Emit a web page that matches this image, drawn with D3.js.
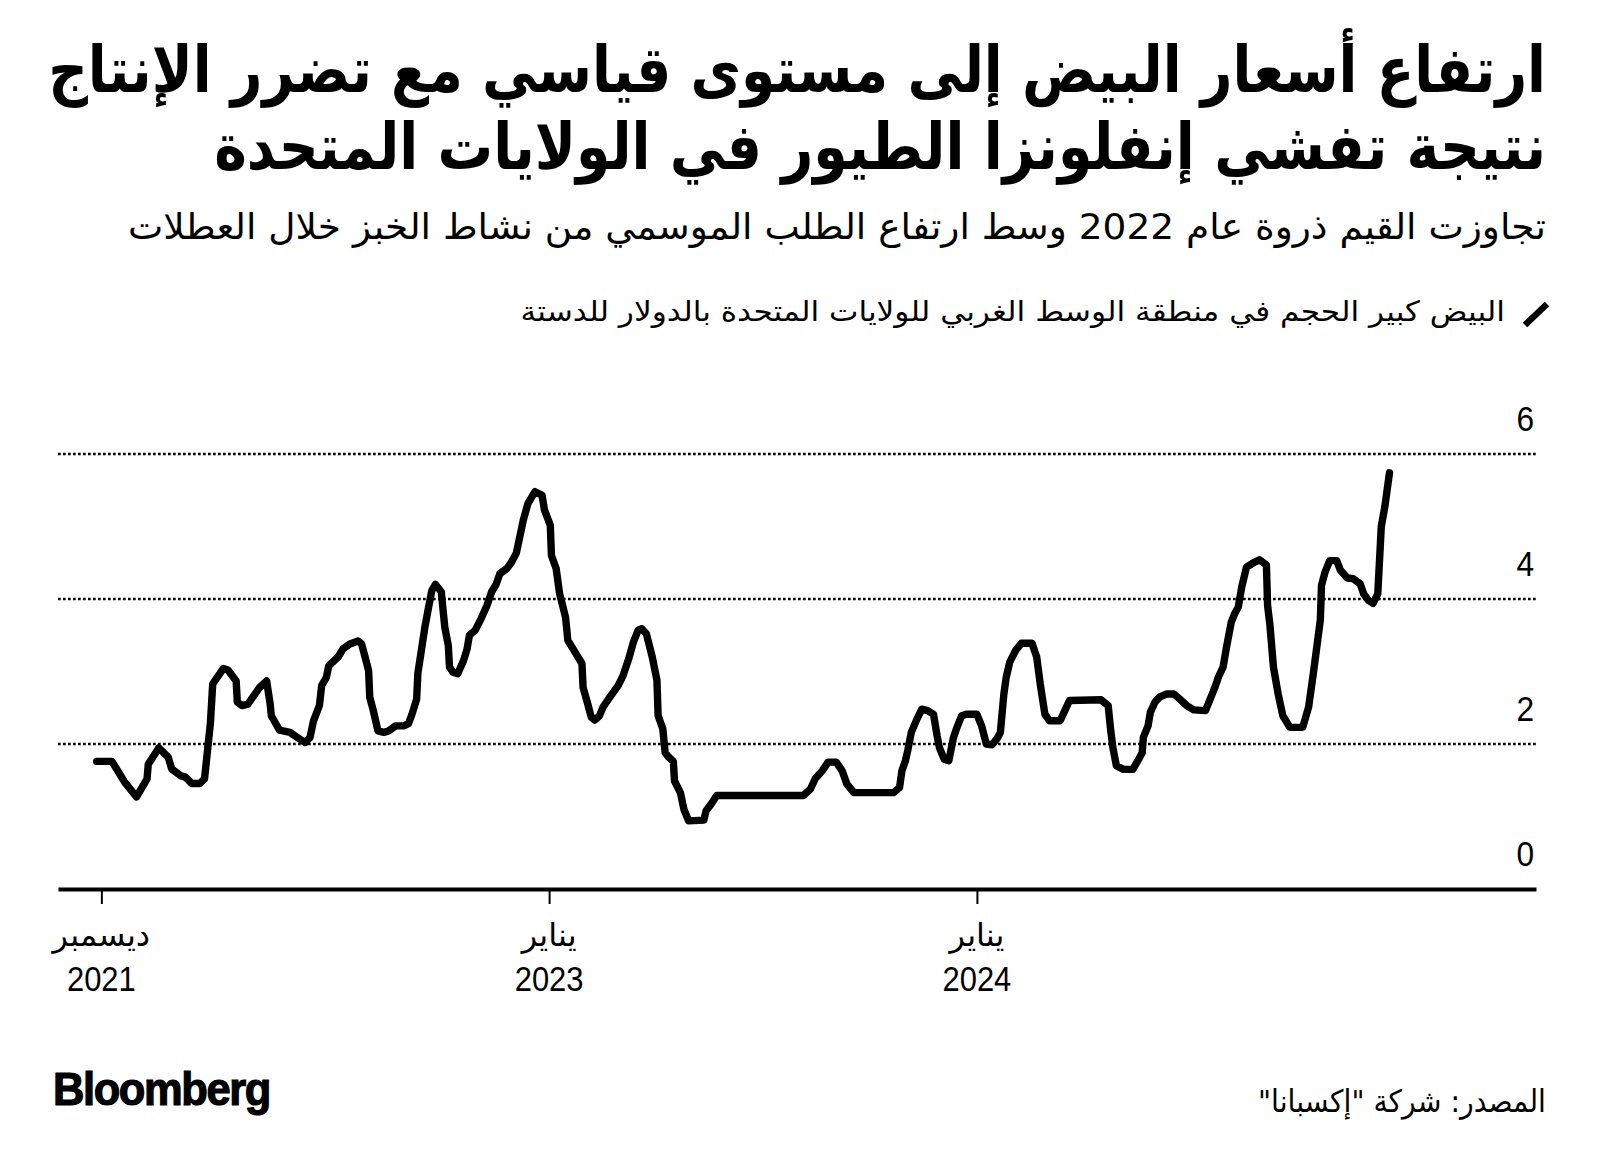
<!DOCTYPE html>
<html lang="ar">
<head>
<meta charset="utf-8">
<script src="https://cdn.jsdelivr.net/npm/d3@7"></script>
<style>
  html, body { margin: 0; padding: 0; background: #fff; }
  svg { display: block; }
  .ar { font-family: "DejaVu Sans", sans-serif; direction: rtl; }
  .num { font-family: "Liberation Sans", Arial, sans-serif; }
</style>
</head>
<body>
<svg id="chart" width="1600" height="1171"></svg>
<script>
// ---------- data ----------
const titleLines = [
  "ارتفاع أسعار البيض إلى مستوى قياسي مع تضرر الإنتاج",
  "نتيجة تفشي إنفلونزا الطيور في الولايات المتحدة"
];
const subtitle = "تجاوزت القيم ذروة عام 2022 وسط ارتفاع الطلب الموسمي من نشاط الخبز خلال العطلات";
const legendLabel = "البيض كبير الحجم في منطقة الوسط الغربي للولايات المتحدة بالدولار للدستة";
const sourceText = "المصدر: شركة \"إكسبانا\"";

const xTickDates = ["2021-12-15", "2023-01-01", "2024-01-01"];
const xTickMonths = ["ديسمبر", "يناير", "يناير"];
const xTickYears = ["2021", "2023", "2024"];
const yTicks = [0, 2, 4, 6];
const yGrid = [2, 4, 6];

const dates = [
 "2021-12-11","2021-12-24","2021-12-28","2022-01-04","2022-01-14","2022-01-23","2022-01-24","2022-02-02",
 "2022-02-10","2022-02-13","2022-02-21","2022-02-25","2022-03-02","2022-03-09","2022-03-13","2022-03-18",
 "2022-03-20","2022-03-29","2022-04-02","2022-04-09","2022-04-10","2022-04-14","2022-04-19","2022-04-29",
 "2022-05-05","2022-05-08","2022-05-09","2022-05-16","2022-05-25","2022-06-02","2022-06-07","2022-06-11",
 "2022-06-14","2022-06-19","2022-06-21","2022-06-25","2022-06-27","2022-07-05","2022-07-09","2022-07-15",
 "2022-07-22","2022-07-25","2022-07-28","2022-07-31","2022-08-01","2022-08-04","2022-08-08","2022-08-13",
 "2022-08-17","2022-08-23","2022-08-30","2022-09-03","2022-09-06","2022-09-10","2022-09-11","2022-09-14",
 "2022-09-17","2022-09-20","2022-09-23","2022-09-26","2022-10-01","2022-10-04","2022-10-07","2022-10-08",
 "2022-10-11","2022-10-15","2022-10-20","2022-10-23","2022-10-25","2022-10-30","2022-11-04","2022-11-09",
 "2022-11-13","2022-11-17","2022-11-20","2022-11-26","2022-11-30","2022-12-04","2022-12-07","2022-12-10",
 "2022-12-14","2022-12-20","2022-12-26","2022-12-28","2023-01-02","2023-01-03","2023-01-07","2023-01-10",
 "2023-01-15","2023-01-17","2023-01-23","2023-01-29","2023-01-30","2023-02-03","2023-02-06","2023-02-09",
 "2023-02-13","2023-02-16","2023-02-22","2023-03-01","2023-03-05","2023-03-10","2023-03-14","2023-03-18",
 "2023-03-21","2023-03-25","2023-03-30","2023-04-03","2023-04-04","2023-04-08","2023-04-10","2023-04-13",
 "2023-04-17","2023-04-18","2023-04-23","2023-04-26","2023-04-30","2023-05-13","2023-05-15","2023-05-20",
 "2023-05-24","2023-08-06","2023-08-12","2023-08-16","2023-08-22","2023-08-27","2023-09-03","2023-09-08",
 "2023-09-12","2023-09-18","2023-10-22","2023-10-27","2023-10-29","2023-11-01","2023-11-03","2023-11-06",
 "2023-11-11","2023-11-15","2023-11-20","2023-11-25","2023-11-28","2023-11-30","2023-12-04","2023-12-08",
 "2023-12-12","2023-12-15","2023-12-19","2023-12-23","2024-01-01","2024-01-05","2024-01-09","2024-01-14",
 "2024-01-18","2024-01-21","2024-01-24","2024-01-26","2024-01-29","2024-02-03","2024-02-08","2024-02-17",
 "2024-02-21","2024-02-24","2024-02-28","2024-03-03","2024-03-12","2024-03-16","2024-03-20","2024-04-16",
 "2024-04-22","2024-04-24","2024-04-26","2024-04-29","2024-05-05","2024-05-13","2024-05-18","2024-05-21",
 "2024-05-22","2024-05-26","2024-05-28","2024-06-01","2024-06-05","2024-06-11","2024-06-17","2024-06-22",
 "2024-06-28","2024-07-04","2024-07-14","2024-07-18","2024-07-22","2024-07-25","2024-07-29","2024-08-01",
 "2024-08-05","2024-08-08","2024-08-11","2024-08-14","2024-08-18","2024-08-24","2024-08-29","2024-09-04",
 "2024-09-05","2024-09-07","2024-09-10","2024-09-14","2024-09-18","2024-09-24","2024-10-05","2024-10-10",
 "2024-10-14","2024-10-17","2024-10-20","2024-10-21","2024-10-24","2024-10-28","2024-11-03","2024-11-06",
 "2024-11-12","2024-11-17","2024-11-23","2024-11-26","2024-11-30","2024-12-04","2024-12-08","2024-12-11",
 "2024-12-14","2024-12-18"
];
const prices = [
 1.76,1.76,1.655,1.47,1.27,1.52,1.72,1.945,
 1.82,1.655,1.56,1.54,1.456,1.456,1.52,2.28,
 2.83,3.04,3.02,2.87,2.58,2.53,2.55,2.78,
 2.87,2.55,2.39,2.19,2.16,2.07,2.02,2.09,
 2.32,2.53,2.81,2.92,3.08,3.20,3.31,3.38,
 3.42,3.38,3.20,3.01,2.645,2.46,2.18,2.16,
 2.18,2.25,2.25,2.28,2.41,2.62,2.97,3.29,
 3.61,3.87,4.12,4.20,4.10,3.61,3.36,3.06,
 2.99,2.97,3.15,3.31,3.50,3.57,3.73,3.91,
 4.10,4.21,4.35,4.42,4.51,4.63,4.86,5.09,
 5.32,5.48,5.43,5.23,5.02,4.60,4.42,4.07,
 3.75,3.43,3.27,3.11,2.78,2.55,2.37,2.33,
 2.39,2.51,2.65,2.81,2.94,3.18,3.41,3.57,
 3.59,3.52,3.20,2.88,2.39,2.21,1.88,1.82,
 1.76,1.49,1.33,1.10,0.94,0.95,1.08,1.19,
 1.29,1.29,1.38,1.52,1.63,1.75,1.75,1.63,
 1.45,1.33,1.33,1.40,1.63,1.77,1.91,2.16,
 2.35,2.48,2.46,2.41,2.115,1.95,1.79,1.77,
 2.09,2.23,2.39,2.41,2.41,2.25,2.00,1.99,
 2.07,2.16,2.69,2.92,3.13,3.29,3.39,3.39,
 3.20,2.83,2.41,2.32,2.32,2.46,2.60,2.61,
 2.53,2.21,1.95,1.70,1.65,1.65,1.79,1.88,
 2.09,2.25,2.44,2.58,2.65,2.69,2.69,2.62,
 2.53,2.47,2.46,2.62,2.78,2.92,3.06,3.34,
 3.68,3.80,3.89,4.17,4.44,4.50,4.54,4.47,
 3.91,3.64,3.06,2.69,2.39,2.23,2.23,2.51,
 2.97,3.34,3.71,4.19,4.37,4.53,4.53,4.40,
 4.29,4.28,4.21,4.07,3.98,3.94,4.07,5.00,
 5.27,5.74
];

// ---------- chart ----------
const parse = d3.timeParse("%Y-%m-%d");
const series = dates.map((d, i) => ({ date: parse(d), value: prices[i] }));

const svg = d3.select("#chart");
const plotLeft = 58, plotRight = 1536, plotBottom = 889, plotTop = 454;

const x = d3.scaleTime()
  .domain([parse("2021-11-08"), parse("2025-04-22")])
  .range([plotLeft, plotRight]);
const y = d3.scaleLinear().domain([0, 6]).range([plotBottom, plotTop]);

function fitWidth(sel, target) {
  const w = sel.node().getComputedTextLength();
  const ax = +sel.attr("x");
  const s = target / w;
  sel.attr("transform", `translate(${ax},0) scale(${s},1) translate(${-ax},0)`);
}

// Title
const tBase = [92, 169];
titleLines.forEach((t, i) => {
  const el = svg.append("text").attr("class", "ar")
    .attr("x", 1546).attr("y", tBase[i])
    .attr("text-anchor", "start")
    .style("font-size", "64px").style("font-weight", "bold").style("fill", "#000")
    .text(t);
  fitWidth(el, i === 0 ? 1498 : 1332);
});

// Subtitle
const sub = svg.append("text").attr("class", "ar")
  .attr("x", 1546).attr("y", 239).attr("text-anchor", "start")
  .style("font-size", "36px").style("fill", "#000").text(subtitle);
fitWidth(sub, 1418);

// Legend
svg.append("line")
  .attr("x1", 1525).attr("y1", 325).attr("x2", 1547).attr("y2", 304)
  .attr("stroke", "#000").attr("stroke-width", 6.5).attr("stroke-linecap", "butt");
const leg = svg.append("text").attr("class", "ar")
  .attr("x", 1505).attr("y", 321).attr("text-anchor", "start")
  .style("font-size", "28px").style("fill", "#000").text(legendLabel);
fitWidth(leg, 985);

// Grid lines
svg.append("g").selectAll("line").data(yGrid).join("line")
  .attr("x1", plotLeft).attr("x2", plotRight)
  .attr("y1", d => y(d)).attr("y2", d => y(d))
  .attr("stroke", "#000").attr("stroke-width", 2.7)
  .attr("stroke-dasharray", "2.7,2.3");

// Y labels
svg.append("g").selectAll("text").data(yTicks).join("text")
  .attr("class", "num")
  .attr("x", 1534).attr("y", d => y(d) - 23)
  .attr("text-anchor", "end")
  .attr("transform", "translate(1534,0) scale(0.88,1) translate(-1534,0)")
  .style("font-size", "36px").style("fill", "#000")
  .text(d => d);

// X axis
const xAxis = d3.axisBottom(x)
  .tickValues(xTickDates.map(parse))
  .tickSize(15).tickSizeOuter(0).tickFormat("");
const gx = svg.append("g").attr("transform", `translate(0,${plotBottom})`).call(xAxis);
gx.select(".domain").attr("stroke", "#000").attr("stroke-width", 4);
gx.selectAll(".tick line").attr("stroke", "#000").attr("stroke-width", 2);

// X labels
xTickDates.forEach((d, i) => {
  const cx = x(parse(d));
  const m = svg.append("text").attr("class", "ar")
    .attr("x", cx).attr("y", 946).attr("text-anchor", "middle")
    .style("font-size", "32px").style("fill", "#000")
    .text(xTickMonths[i]);
  svg.append("text").attr("class", "num")
    .attr("x", cx).attr("y", 991).attr("text-anchor", "middle")
    .attr("transform", `translate(${cx},0) scale(0.86,1) translate(${-cx},0)`)
    .style("font-size", "36px").style("fill", "#000")
    .text(xTickYears[i]);
});

// Line
const line = d3.line().x(d => x(d.date)).y(d => y(d.value));
svg.append("path").datum(series)
  .attr("d", line)
  .attr("fill", "none").attr("stroke", "#000")
  .attr("stroke-width", 7.4)
  .attr("stroke-linejoin", "round").attr("stroke-linecap", "round");

// Footer
const logo = svg.append("text").attr("x", 53).attr("y", 1105)
  .style("font-family", "'Liberation Sans', Arial, sans-serif")
  .style("font-size", "46px").style("font-weight", "bold").style("letter-spacing", "-1.5px")
  .style("fill", "#000").style("stroke", "#000").style("stroke-width", "1.2px")
  .text("Bloomberg");
fitWidth(logo, 217);

const src = svg.append("text").attr("class", "ar")
  .attr("x", 1546).attr("y", 1112).attr("text-anchor", "start")
  .style("font-size", "31px").style("fill", "#000").text(sourceText);
fitWidth(src, 288);
</script>
</body>
</html>
